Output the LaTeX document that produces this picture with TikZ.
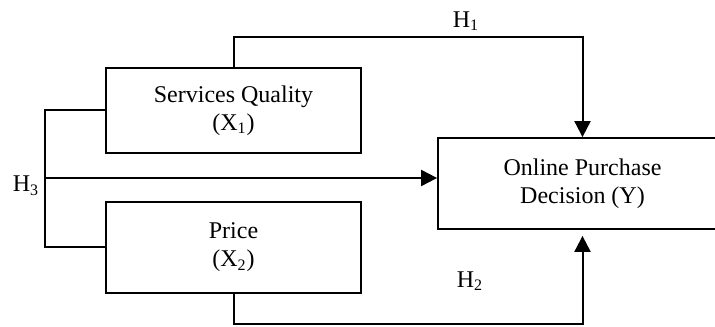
\documentclass[tikz,border=0pt]{standalone}
\usepackage{fontspec}
\setmainfont{Liberation Serif}
\usetikzlibrary{arrows.meta}

\begin{document}
\begin{tikzpicture}[x=0.5pt, y=0.5pt, font=\fontsize{12}{14}\selectfont, box/.style={draw, rectangle, line width=0.9pt, inner sep=0pt, minimum width=127.5pt, align=center}, result/.style={box, minimum width=144.5pt, minimum height=45.5pt}, n/.style={-{Triangle[length=8pt, width=8pt]}, line width=1pt}, l/.style={line width=1pt}, hyp/.style={inner sep=0pt}]
            \useasboundingbox (0,0) rectangle (715,326);
            % nodes
            \node[box, minimum height=42.5pt] (sq) at (233.5,215.5) {Services Quality\\(X\textsubscript{1})};
            \node[box, minimum height=45.5pt] (price) at (233.5,78.5) {Price\\(X\textsubscript{2})};
            \node[result] (opd) at (582.5,142.5) {Online Purchase\\Decision (Y)};
            \node[hyp] (h1) at (466,305) {H\textsubscript{1}};
            \node[hyp] (h2) at (470,45) {H\textsubscript{2}};
            \node[hyp] (h3) at (26,140) {H\textsubscript{3}};
            \coordinate (join) at (46,148);
            % edges
            \draw [n] (sq.north) -- ++(0,30) -| (opd.north);
            \draw [n, shorten >=3pt] (price.south) -- ++(0,-30) -| (opd.south);
            \draw [l] (sq.west) -- ++(-60,0) |- (price.west);
            \draw [n] (join) -- (join -| opd.west);
        \end{tikzpicture}
\end{document}
